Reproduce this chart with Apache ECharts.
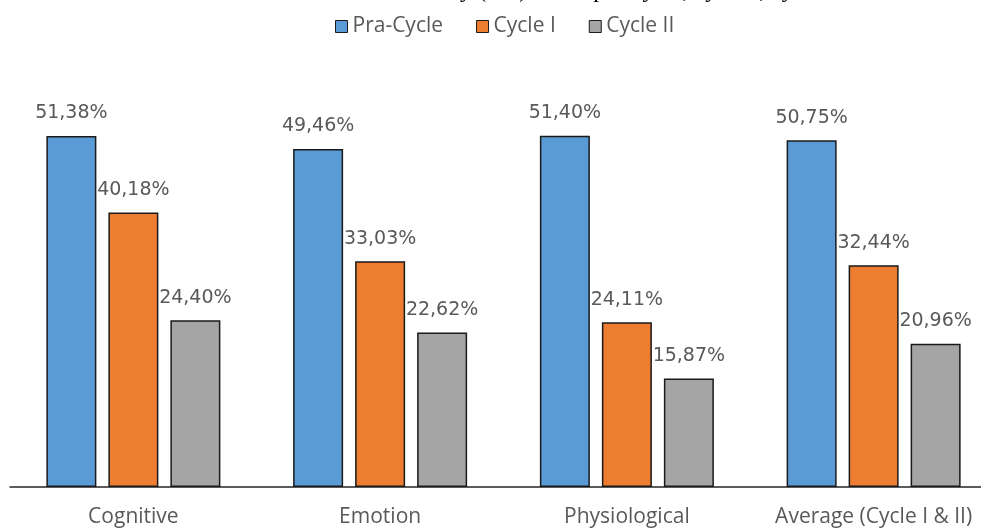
<!DOCTYPE html>
<html>
<head>
<meta charset="utf-8">
<script src="https://cdn.jsdelivr.net/npm/echarts@6/dist/echarts.min.js"></script>
<style>
  html, body { margin: 0; padding: 0; background: #ffffff; overflow: hidden; }
  #chart { width: 1000px; height: 528px; }
</style>
</head>
<body>
<div id="chart"></div>
<script>
// Anxiety components per cycle (percent)
const categories = ['Cognitive', 'Emotion', 'Physiological', 'Average (Cycle I & II)'];
const seriesNames = ['Pra-Cycle', 'Cycle I', 'Cycle II'];
const praCycle = [51.38, 49.46, 51.40, 50.75];
const cycleOne = [40.18, 33.03, 24.11, 32.44];
const cycleTwo = [24.40, 22.62, 15.87, 20.96];
const colors = ['#5b9bd5', '#ed7d31', '#a5a5a5'];

const chart = echarts.init(document.getElementById('chart'), null, { renderer: 'canvas' });

const fmt = p => p.value.toFixed(2).replace('.', ',') + '%';

function barSeries(name, values, color) {
  return {
    name: name,
    type: 'bar',
    data: values,
    barWidth: 50,
    barGap: '24%',
    itemStyle: { color: color, borderColor: '#1a1a1a', borderWidth: 1.5 },
    label: {
      show: true,
      position: 'top',
      distance: 13,
      formatter: fmt,
      color: '#595959',
      fontFamily: 'DejaVu Sans',
      fontSize: 19
    }
  };
}

chart.setOption({
  backgroundColor: '#ffffff',
  animation: false,
  graphic: [{
    type: 'text',
    x: 286,
    y: 3,
    style: {
      text: 'Classroom Anxiety (CA) in the pra-cycle, cycle I, cycle II',
      font: '24px "Liberation Serif"',
      fill: '#000000',
      verticalAlign: 'bottom'
    }
  }],
  legend: {
    data: seriesNames,
    top: 11,
    left: 330,
    itemWidth: 12,
    itemHeight: 12,
    itemGap: 33,
    icon: 'rect',
    itemStyle: { borderColor: '#1a1a1a', borderWidth: 1 },
    textStyle: { color: '#595959', fontFamily: 'Open Sans', fontSize: 21 }
  },
  grid: { left: 10, top: 77, width: 987, height: 411, containLabel: false },
  xAxis: {
    type: 'category',
    data: categories,
    axisLine: { show: true, lineStyle: { color: '#262626', width: 1.5 } },
    axisTick: { show: false },
    axisLabel: {
      color: '#595959',
      fontFamily: 'Open Sans',
      fontSize: 21,
      margin: 20,
      interval: 0
    }
  },
  yAxis: {
    type: 'value',
    min: 0,
    max: 60,
    show: false,
    splitLine: { show: false }
  },
  series: [
    barSeries(seriesNames[0], praCycle, colors[0]),
    barSeries(seriesNames[1], cycleOne, colors[1]),
    barSeries(seriesNames[2], cycleTwo, colors[2])
  ]
});
</script>
</body>
</html>
